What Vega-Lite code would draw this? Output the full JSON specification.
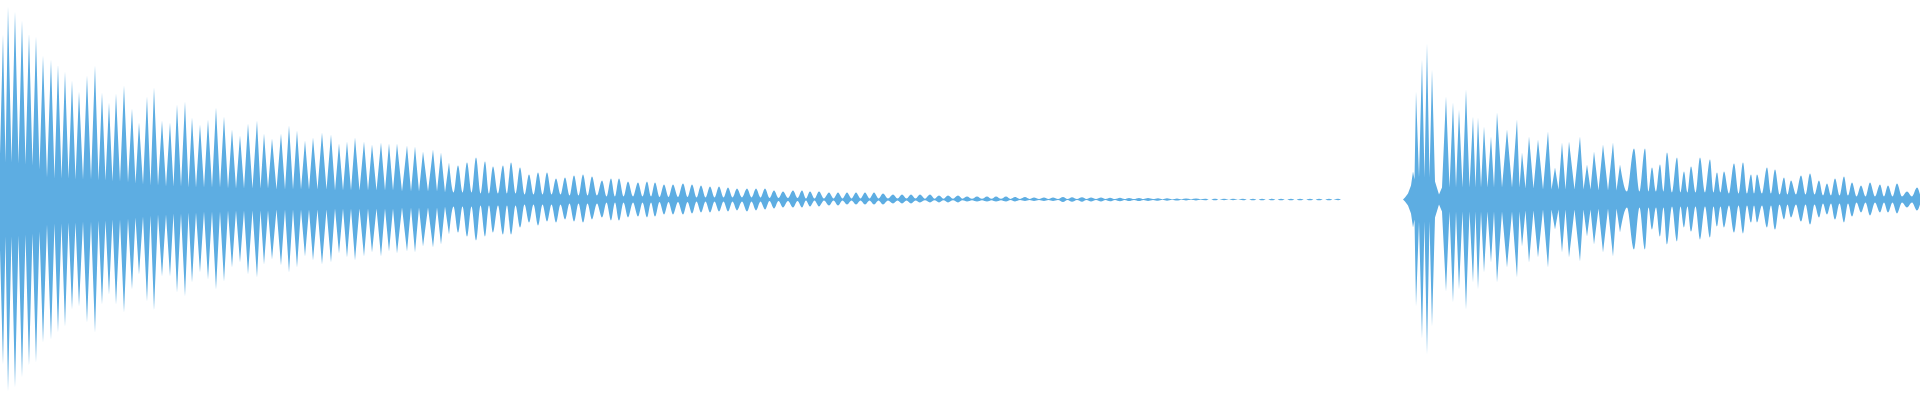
{
"$schema": "https://vega.github.io/schema/vega-lite/v6.json",
"width": 1920, "height": 400,
"autosize": {"type": "fit", "contains": "padding"},
"padding": 0,
"background": "white",
"config": {"view": {"stroke": null}},
"data": {"values": [
{"t":0,"hi":45,"lo":-50},{"t":3,"hi":165,"lo":-165},{"t":5.5,"hi":37,"lo":-37},{"t":8,"hi":193,"lo":-192},{"t":11.5,"hi":37,"lo":-37},{"t":15,"hi":188,"lo":-188},{"t":18.5,"hi":36,"lo":-36},{"t":22,"hi":179,"lo":-178},{"t":25.5,"hi":35,"lo":-35},{"t":29,"hi":166,"lo":-166},{"t":32.5,"hi":34,"lo":-34},{"t":36,"hi":163,"lo":-163},{"t":39.5,"hi":30,"lo":-32},{"t":43,"hi":144,"lo":-143},{"t":47,"hi":22,"lo":-25},{"t":51,"hi":140,"lo":-140},{"t":54.5,"hi":21,"lo":-24},{"t":58,"hi":135,"lo":-133},{"t":61.5,"hi":21,"lo":-24},{"t":65,"hi":128,"lo":-127},{"t":68.5,"hi":21,"lo":-23},{"t":72,"hi":119,"lo":-110},{"t":75.5,"hi":20,"lo":-23},{"t":79,"hi":108,"lo":-107},{"t":83,"hi":20,"lo":-22},{"t":87,"hi":124,"lo":-123},{"t":91,"hi":20,"lo":-22},{"t":95,"hi":134,"lo":-133},{"t":98.5,"hi":19,"lo":-21},{"t":102,"hi":107,"lo":-105},{"t":105.5,"hi":19,"lo":-21},{"t":109,"hi":97,"lo":-95},{"t":112.5,"hi":18,"lo":-20},{"t":116,"hi":106,"lo":-105},{"t":120,"hi":18,"lo":-20},{"t":124,"hi":114,"lo":-113},{"t":128,"hi":17,"lo":-19},{"t":132,"hi":91,"lo":-90},{"t":135.5,"hi":16,"lo":-18},{"t":139,"hi":77,"lo":-75},{"t":143,"hi":15,"lo":-17},{"t":147,"hi":103,"lo":-102},{"t":150.5,"hi":14,"lo":-16},{"t":154,"hi":112,"lo":-111},{"t":158,"hi":14,"lo":-15},{"t":162,"hi":79,"lo":-77},{"t":166,"hi":13,"lo":-15},{"t":170,"hi":77,"lo":-77},{"t":173.5,"hi":13,"lo":-14},{"t":177,"hi":95,"lo":-93},{"t":181,"hi":13,"lo":-14},{"t":185,"hi":98,"lo":-97},{"t":188.5,"hi":12,"lo":-13},{"t":192,"hi":82,"lo":-83},{"t":196,"hi":12,"lo":-13},{"t":200,"hi":75,"lo":-73},
{"t":204,"hi":12,"lo":-12},{"t":208,"hi":80,"lo":-80},{"t":212,"hi":12,"lo":-12},{"t":216,"hi":92,"lo":-90},{"t":220,"hi":12,"lo":-12},{"t":224,"hi":83,"lo":-82},{"t":228,"hi":11,"lo":-11},{"t":232,"hi":70,"lo":-68},{"t":236,"hi":11,"lo":-11},{"t":240,"hi":64,"lo":-63},{"t":244,"hi":11,"lo":-11},{"t":248,"hi":76,"lo":-75},{"t":252.5,"hi":11,"lo":-11},{"t":257,"hi":79,"lo":-78},{"t":260.5,"hi":11,"lo":-11},{"t":264,"hi":66,"lo":-65},{"t":268,"hi":11,"lo":-11},{"t":272,"hi":61,"lo":-60},{"t":276.5,"hi":10,"lo":-10},{"t":281,"hi":66,"lo":-66},{"t":285,"hi":10,"lo":-10},{"t":289,"hi":74,"lo":-73},{"t":293,"hi":10,"lo":-10},{"t":297,"hi":69,"lo":-68},{"t":301,"hi":10,"lo":-10},{"t":305,"hi":59,"lo":-57},{"t":309,"hi":10,"lo":-10},{"t":313,"hi":62,"lo":-61},{"t":317.5,"hi":10,"lo":-10},{"t":322,"hi":67,"lo":-65},{"t":326.5,"hi":10,"lo":-10},{"t":331,"hi":65,"lo":-63},{"t":335,"hi":9,"lo":-9},{"t":339,"hi":56,"lo":-54},{"t":343,"hi":9,"lo":-9},{"t":347,"hi":58,"lo":-58},{"t":351,"hi":9,"lo":-9},{"t":355,"hi":62,"lo":-61},{"t":359.5,"hi":9,"lo":-9},{"t":364,"hi":58,"lo":-57},{"t":368,"hi":9,"lo":-9},{"t":372,"hi":55,"lo":-53},{"t":376.5,"hi":9,"lo":-9},{"t":381,"hi":57,"lo":-57},{"t":385,"hi":9,"lo":-9},{"t":389,"hi":56,"lo":-52},{"t":393,"hi":9,"lo":-9},{"t":397,"hi":56,"lo":-54},
{"t":402,"hi":8,"lo":-8},{"t":407,"hi":54,"lo":-52},{"t":411,"hi":8,"lo":-8},{"t":415,"hi":53,"lo":-53},{"t":419,"hi":8,"lo":-8},{"t":423,"hi":48,"lo":-47},{"t":428,"hi":8,"lo":-8},{"t":433,"hi":50,"lo":-48},{"t":437,"hi":8,"lo":-8},{"t":441,"hi":47,"lo":-45},{"t":445,"hi":7,"lo":-7},{"t":449,"hi":37,"lo":-35},{"t":453.5,"hi":7,"lo":-7},{"t":458,"hi":34,"lo":-33},{"t":462.5,"hi":7,"lo":-7},{"t":467,"hi":37,"lo":-37},{"t":471.5,"hi":7,"lo":-7},{"t":476,"hi":42,"lo":-41},{"t":480.5,"hi":6,"lo":-6},{"t":485,"hi":38,"lo":-37},{"t":489,"hi":6,"lo":-6},{"t":493,"hi":33,"lo":-33},{"t":498,"hi":6,"lo":-6},{"t":503,"hi":34,"lo":-35},{"t":507,"hi":6,"lo":-6},{"t":511,"hi":37,"lo":-35},{"t":515.5,"hi":6,"lo":-6},{"t":520,"hi":32,"lo":-28},{"t":524.5,"hi":5,"lo":-5},{"t":529,"hi":25,"lo":-23},{"t":533.5,"hi":5,"lo":-5},{"t":538,"hi":27,"lo":-26},{"t":542.5,"hi":5,"lo":-5},{"t":547,"hi":27,"lo":-22},{"t":551.5,"hi":5,"lo":-5},{"t":556,"hi":21,"lo":-23},{"t":560.5,"hi":5,"lo":-5},{"t":565,"hi":22,"lo":-20},{"t":569.5,"hi":4,"lo":-4},{"t":574,"hi":24,"lo":-22},{"t":578.5,"hi":4,"lo":-4},{"t":583,"hi":25,"lo":-23},{"t":587.5,"hi":4,"lo":-4},{"t":592,"hi":23,"lo":-20},{"t":597,"hi":4,"lo":-4},
{"t":602,"hi":19,"lo":-18},{"t":606.5,"hi":3,"lo":-3},{"t":611,"hi":21,"lo":-21},{"t":615,"hi":3,"lo":-3},{"t":619,"hi":21,"lo":-21},{"t":623.5,"hi":3,"lo":-3},{"t":628,"hi":18,"lo":-18},{"t":633,"hi":3,"lo":-3},{"t":638,"hi":17,"lo":-17},{"t":642.5,"hi":3,"lo":-3},{"t":647,"hi":18,"lo":-18},{"t":651,"hi":3,"lo":-3},{"t":655,"hi":17,"lo":-17},{"t":659.5,"hi":2.5,"lo":-2.5},{"t":664,"hi":15,"lo":-15},{"t":668.5,"hi":2.5,"lo":-2.5},{"t":673,"hi":15,"lo":-15},{"t":678,"hi":2.5,"lo":-2.5},{"t":683,"hi":16,"lo":-15},{"t":687.5,"hi":2.5,"lo":-2.5},{"t":692,"hi":15,"lo":-14},{"t":696.5,"hi":2,"lo":-2},{"t":701,"hi":14,"lo":-13},{"t":705.5,"hi":2,"lo":-2},{"t":710,"hi":13,"lo":-13},{"t":714.5,"hi":2,"lo":-2},{"t":719,"hi":13,"lo":-12},{"t":723.5,"hi":2,"lo":-2},{"t":728,"hi":12,"lo":-12},{"t":732.5,"hi":2,"lo":-2},{"t":737,"hi":11,"lo":-11},{"t":742,"hi":2,"lo":-2},{"t":747,"hi":11,"lo":-12},{"t":751.5,"hi":2,"lo":-2},{"t":756,"hi":11,"lo":-11},{"t":760.5,"hi":2,"lo":-2},{"t":765,"hi":11,"lo":-10},{"t":769.5,"hi":1.5,"lo":-1.5},{"t":774,"hi":9,"lo":-9},{"t":778.5,"hi":1.5,"lo":-1.5},{"t":783,"hi":8,"lo":-8},{"t":788,"hi":1.5,"lo":-1.5},{"t":793,"hi":9,"lo":-8},{"t":797.5,"hi":1.5,"lo":-1.5},
{"t":802,"hi":9,"lo":-8},{"t":806,"hi":1,"lo":-1},{"t":810,"hi":8,"lo":-7},{"t":814.5,"hi":1,"lo":-1},{"t":819,"hi":8,"lo":-7},{"t":824,"hi":1,"lo":-1},{"t":829,"hi":7,"lo":-6},{"t":833.5,"hi":1,"lo":-1},{"t":838,"hi":7,"lo":-6},{"t":842.5,"hi":1,"lo":-1},{"t":847,"hi":7,"lo":-5},{"t":851.5,"hi":1,"lo":-1},{"t":856,"hi":7,"lo":-5},{"t":860.5,"hi":1,"lo":-1},{"t":865,"hi":7,"lo":-5},{"t":869.5,"hi":1,"lo":-1},{"t":874,"hi":7,"lo":-5},{"t":878.5,"hi":1,"lo":-1},{"t":883,"hi":6,"lo":-5},{"t":888,"hi":1,"lo":-1},{"t":893,"hi":5,"lo":-4},{"t":897.5,"hi":1,"lo":-1},{"t":902,"hi":5,"lo":-4},{"t":906.5,"hi":1,"lo":-1},{"t":911,"hi":5,"lo":-4},{"t":915.5,"hi":1,"lo":-1},{"t":920,"hi":5,"lo":-3},{"t":925,"hi":0.8,"lo":-0.8},{"t":930,"hi":5,"lo":-3},{"t":934.5,"hi":0.8,"lo":-0.8},{"t":939,"hi":4,"lo":-3},{"t":943.5,"hi":0.8,"lo":-0.8},{"t":948,"hi":4,"lo":-3},{"t":953,"hi":0.8,"lo":-0.8},{"t":958,"hi":4,"lo":-3},{"t":962.5,"hi":0.8,"lo":-0.8},{"t":967,"hi":3,"lo":-2},{"t":972,"hi":0.7,"lo":-0.7},{"t":977,"hi":3,"lo":-2},{"t":982,"hi":0.7,"lo":-0.7},{"t":987,"hi":3,"lo":-2},{"t":991.5,"hi":0.7,"lo":-0.7},{"t":996,"hi":3,"lo":-2},{"t":1001,"hi":0.7,"lo":-0.7},{"t":1006,"hi":3,"lo":-2},{"t":1010.5,"hi":0.6,"lo":-0.6},{"t":1015,"hi":2.5,"lo":-2},{"t":1020,"hi":0.6,"lo":-0.6},{"t":1025,"hi":2.5,"lo":-1.5},{"t":1029.5,"hi":0.6,"lo":-0.6},{"t":1034,"hi":2,"lo":-1.5},{"t":1039,"hi":0.6,"lo":-0.6},{"t":1044,"hi":2,"lo":-1.5},{"t":1048.5,"hi":0.6,"lo":-0.6},{"t":1053,"hi":2,"lo":-1.5},{"t":1058,"hi":0.5,"lo":-0.5},
{"t":1063,"hi":2.5,"lo":-2.5},{"t":1067.5,"hi":0.5,"lo":-0.5},{"t":1072,"hi":2.3,"lo":-2.3},{"t":1077,"hi":0.5,"lo":-0.5},{"t":1082,"hi":2.2,"lo":-2.2},{"t":1086.5,"hi":0.5,"lo":-0.5},{"t":1091,"hi":2,"lo":-2},{"t":1096,"hi":0.5,"lo":-0.5},{"t":1101,"hi":2,"lo":-2},{"t":1105.5,"hi":0.5,"lo":-0.5},{"t":1110,"hi":1.8,"lo":-1.8},{"t":1115,"hi":0.4,"lo":-0.4},{"t":1120,"hi":1.7,"lo":-1.7},{"t":1124.5,"hi":0.4,"lo":-0.4},{"t":1129,"hi":1.6,"lo":-1.6},{"t":1134,"hi":0.4,"lo":-0.4},{"t":1139,"hi":1.5,"lo":-1.5},{"t":1143.5,"hi":0.4,"lo":-0.4},{"t":1148,"hi":1.4,"lo":-1.4},{"t":1153,"hi":0.4,"lo":-0.4},{"t":1158,"hi":1.3,"lo":-1.3},{"t":1162.5,"hi":0.3,"lo":-0.3},{"t":1167,"hi":1.2,"lo":-1.2},{"t":1172,"hi":0.3,"lo":-0.3},{"t":1177,"hi":1.1,"lo":-1.1},{"t":1181.5,"hi":0.3,"lo":-0.3},{"t":1186,"hi":1,"lo":-1},{"t":1191,"hi":0.3,"lo":-0.3},{"t":1196,"hi":0.9,"lo":-0.9},{"t":1200.5,"hi":0.2,"lo":-0.2},{"t":1205,"hi":0.85,"lo":-0.85},{"t":1210,"hi":0.1,"lo":-0.1},{"t":1215,"hi":0.85,"lo":-0.85},{"t":1219.5,"hi":0.1,"lo":-0.1},{"t":1224,"hi":0.8,"lo":-0.8},{"t":1229,"hi":0.1,"lo":-0.1},{"t":1233,"hi":0.8,"lo":-0.8},{"t":1238,"hi":0.1,"lo":-0.1},{"t":1243,"hi":0.8,"lo":-0.8},{"t":1248,"hi":0,"lo":0},{"t":1253,"hi":0.8,"lo":-0.8},{"t":1257.5,"hi":0,"lo":0},{"t":1262,"hi":0.8,"lo":-0.8},{"t":1267,"hi":0,"lo":0},{"t":1272,"hi":0.8,"lo":-0.8},{"t":1276.5,"hi":0,"lo":0},{"t":1281,"hi":0.8,"lo":-0.8},{"t":1286,"hi":0,"lo":0},{"t":1291,"hi":0.8,"lo":-0.8},{"t":1295.5,"hi":0,"lo":0},{"t":1300,"hi":0.8,"lo":-0.8},{"t":1305,"hi":0,"lo":0},{"t":1310,"hi":0.8,"lo":-0.8},{"t":1314.5,"hi":0,"lo":0},{"t":1319,"hi":0.8,"lo":-0.8},{"t":1324,"hi":0,"lo":0},{"t":1329,"hi":0.8,"lo":-0.8},{"t":1333.5,"hi":0,"lo":0},{"t":1338,"hi":0.7,"lo":-0.7},{"t":1341,"hi":0,"lo":0},
{"t":1403,"hi":0,"lo":0},{"t":1405,"hi":2,"lo":-2},{"t":1408,"hi":6,"lo":-6},{"t":1411,"hi":14,"lo":-14},{"t":1413,"hi":28,"lo":-28},{"t":1414.5,"hi":20,"lo":-20},{"t":1416,"hi":108,"lo":-107},{"t":1419,"hi":22,"lo":-22},{"t":1422,"hi":140,"lo":-139},{"t":1424.5,"hi":22,"lo":-22},{"t":1427,"hi":156,"lo":-155},{"t":1429.5,"hi":22,"lo":-22},{"t":1432,"hi":130,"lo":-127},{"t":1435,"hi":18,"lo":-18},{"t":1439,"hi":5,"lo":-5},{"t":1442,"hi":12,"lo":-12},{"t":1446,"hi":103,"lo":-92},{"t":1449.5,"hi":12,"lo":-12},{"t":1453,"hi":97,"lo":-103},{"t":1456,"hi":12,"lo":-12},{"t":1459,"hi":90,"lo":-90},{"t":1462.5,"hi":12,"lo":-12},{"t":1466,"hi":110,"lo":-110},{"t":1469.5,"hi":12,"lo":-12},{"t":1473,"hi":83,"lo":-83},{"t":1475.5,"hi":12,"lo":-12},{"t":1478,"hi":82,"lo":-90},{"t":1481,"hi":12,"lo":-12},{"t":1484,"hi":73,"lo":-73},{"t":1487.5,"hi":12,"lo":-12},{"t":1491,"hi":63,"lo":-63},{"t":1494,"hi":12,"lo":-12},{"t":1497,"hi":87,"lo":-83},{"t":1502,"hi":12,"lo":-12},{"t":1507,"hi":70,"lo":-68},{"t":1512,"hi":12,"lo":-12},{"t":1517,"hi":80,"lo":-78},{"t":1519.5,"hi":12,"lo":-12},{"t":1522,"hi":47,"lo":-47},{"t":1525.5,"hi":11,"lo":-11},{"t":1529,"hi":63,"lo":-63},{"t":1533.5,"hi":11,"lo":-11},{"t":1538,"hi":60,"lo":-58},{"t":1543,"hi":10,"lo":-10},{"t":1548,"hi":68,"lo":-68},{"t":1551.5,"hi":10,"lo":-10},{"t":1555,"hi":32,"lo":-30},{"t":1558.5,"hi":10,"lo":-10},{"t":1562,"hi":57,"lo":-53},{"t":1565.5,"hi":10,"lo":-10},{"t":1569,"hi":58,"lo":-58},{"t":1574.5,"hi":10,"lo":-10},{"t":1580,"hi":63,"lo":-62},{"t":1583.5,"hi":10,"lo":-10},{"t":1587,"hi":35,"lo":-37},{"t":1590.5,"hi":10,"lo":-10},{"t":1594,"hi":48,"lo":-45},{"t":1598.5,"hi":9,"lo":-9},{"t":1603,"hi":55,"lo":-53},{"t":1608,"hi":9,"lo":-9},{"t":1613,"hi":57,"lo":-57},{"t":1616.5,"hi":9,"lo":-9},{"t":1620,"hi":35,"lo":-33},{"t":1627,"hi":8,"lo":-8},{"t":1634,"hi":51,"lo":-50},{"t":1639.5,"hi":8,"lo":-8},{"t":1645,"hi":51,"lo":-50},{"t":1648.5,"hi":8,"lo":-8},{"t":1652,"hi":32,"lo":-30},{"t":1656,"hi":8,"lo":-8},{"t":1660,"hi":35,"lo":-37},{"t":1663.5,"hi":8,"lo":-8},{"t":1667,"hi":47,"lo":-45},{"t":1672,"hi":7,"lo":-7},{"t":1677,"hi":42,"lo":-42},{"t":1680.5,"hi":7,"lo":-7},{"t":1684,"hi":28,"lo":-28},{"t":1687.5,"hi":7,"lo":-7},{"t":1691,"hi":33,"lo":-32},{"t":1695.5,"hi":7,"lo":-7},{"t":1700,"hi":42,"lo":-40},{"t":1705,"hi":7,"lo":-7},{"t":1710,"hi":40,"lo":-38},{"t":1713.5,"hi":7,"lo":-7},{"t":1717,"hi":27,"lo":-27},{"t":1720.5,"hi":7,"lo":-7},{"t":1724,"hi":28,"lo":-28},{"t":1729,"hi":6,"lo":-6},{"t":1734,"hi":36,"lo":-33},{"t":1738.5,"hi":6,"lo":-6},{"t":1743,"hi":37,"lo":-34},{"t":1747,"hi":6,"lo":-6},{"t":1751,"hi":25,"lo":-23},{"t":1754,"hi":6,"lo":-6},{"t":1757,"hi":25,"lo":-23},{"t":1762,"hi":6,"lo":-6},{"t":1767,"hi":32,"lo":-28},{"t":1771,"hi":6,"lo":-6},{"t":1775,"hi":30,"lo":-30},{"t":1779.5,"hi":5,"lo":-5},{"t":1784,"hi":22,"lo":-20},{"t":1787.5,"hi":5,"lo":-5},{"t":1791,"hi":19,"lo":-18},{"t":1796,"hi":5,"lo":-5},{"t":1801,"hi":24,"lo":-22},{"t":1805.5,"hi":5,"lo":-5},{"t":1810,"hi":26,"lo":-25},{"t":1814.5,"hi":5,"lo":-5},{"t":1819,"hi":19,"lo":-18},{"t":1823,"hi":4,"lo":-4},{"t":1827,"hi":16,"lo":-15},{"t":1831,"hi":4,"lo":-4},{"t":1835,"hi":21,"lo":-20},{"t":1839.5,"hi":4,"lo":-4},{"t":1844,"hi":23,"lo":-23},{"t":1848,"hi":4,"lo":-4},{"t":1852,"hi":17,"lo":-17},{"t":1856.5,"hi":3,"lo":-3},{"t":1861,"hi":14,"lo":-13},{"t":1865.5,"hi":3,"lo":-3},{"t":1870,"hi":17,"lo":-16},{"t":1875,"hi":3,"lo":-3},{"t":1880,"hi":15,"lo":-13},{"t":1884,"hi":3,"lo":-3},{"t":1888,"hi":14,"lo":-13},{"t":1892.5,"hi":3,"lo":-3},{"t":1897,"hi":16,"lo":-14},{"t":1902,"hi":3,"lo":-3},{"t":1907,"hi":8,"lo":-8},{"t":1912,"hi":3,"lo":-3},{"t":1917,"hi":12,"lo":-11},{"t":1920,"hi":5,"lo":-5}
]},
"encoding": {
"x": {"field": "t", "type": "quantitative", "scale": {"domain": [0, 1920], "nice": false, "zero": false}, "axis": null},
"y": {"field": "hi", "type": "quantitative", "scale": {"domain": [-200.5, 199.5], "nice": false, "zero": false}, "axis": null},
"y2": {"field": "lo"}
},
"layer": [
{"transform": [{"filter": "datum.t <= 449"}],
 "mark": {"type": "area", "color": "#5dade2", "interpolate": "linear"}},
{"transform": [{"filter": "datum.t >= 449 && datum.t <= 1341"}],
 "mark": {"type": "area", "color": "#5dade2", "interpolate": "monotone"}},
{"transform": [{"filter": "datum.t >= 1403 && datum.t <= 1620"}],
 "mark": {"type": "area", "color": "#5dade2", "interpolate": "linear"}},
{"transform": [{"filter": "datum.t >= 1620"}],
 "mark": {"type": "area", "color": "#5dade2", "interpolate": "monotone"}}
]
}
